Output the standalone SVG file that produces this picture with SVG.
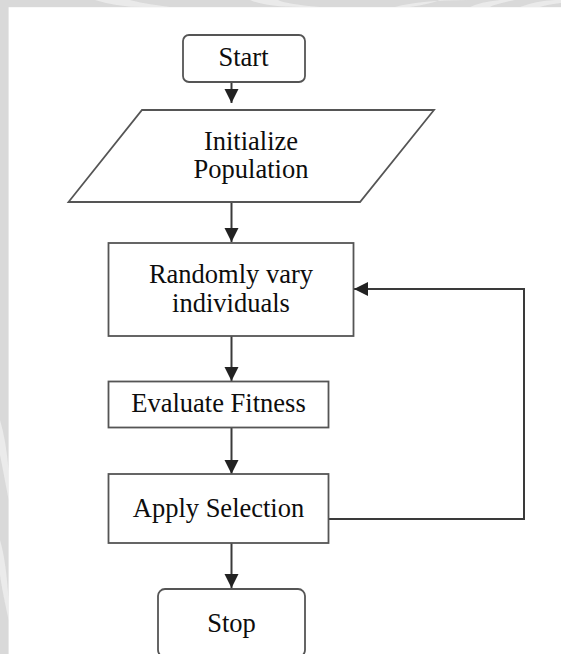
<svg xmlns="http://www.w3.org/2000/svg" width="561" height="654" viewBox="0 0 561 654">
  <style>
    .box { fill: #ffffff; stroke: #555555; stroke-width: 1.8; }
    .edge { fill: none; stroke: #3a3a3a; stroke-width: 2; }
    .lbl { font-family: "Liberation Serif", "Times New Roman", serif; font-size: 26.5px; fill: #0d0d0d; text-anchor: middle; }
  </style>
  <defs>
    <marker id="arrow" markerUnits="userSpaceOnUse" markerWidth="14" markerHeight="15" refX="14" refY="7" orient="auto">
      <path d="M0,0 L14,7 L0,14 Z" fill="#222222"/>
    </marker>
  </defs>

  <!-- page background with grey margin strips -->
  <rect x="0" y="0" width="561" height="654" fill="#d9d9d9"/>
  <g fill="#ececec" opacity="0.9">
    <path d="M95,0 Q120,8 150,7 L170,7 Q140,3 130,0 Z"/>
    <path d="M250,0 Q265,7 300,7 L320,7 Q285,4 278,0 Z"/>
    <path d="M395,7 Q420,0 470,0 L440,0 Q430,4 410,7 Z"/>
    <path d="M470,7 Q480,2 500,0 L515,0 Q495,4 490,7 Z"/>
    <path d="M520,7 Q535,1 555,0 L561,0 L561,3 Q545,5 540,7 Z"/>
    <path d="M0,420 Q6,440 8.6,470 L8.6,500 Q3,470 0,455 Z"/>
    <path d="M0,540 Q6,560 8.6,600 L8.6,620 Q2,590 0,575 Z"/>
  </g>
  <rect x="8.6" y="7.2" width="552.4" height="646.8" fill="#ffffff"/>

  <!-- connectors -->
  <g id="connectors">
    <line class="edge" x1="231.5" y1="82" x2="231.5" y2="103" marker-end="url(#arrow)"/>
    <line class="edge" x1="231.5" y1="202" x2="231.5" y2="242" marker-end="url(#arrow)"/>
    <line class="edge" x1="231.5" y1="336" x2="231.5" y2="381" marker-end="url(#arrow)"/>
    <line class="edge" x1="231.5" y1="427" x2="231.5" y2="474" marker-end="url(#arrow)"/>
    <line class="edge" x1="231.5" y1="543" x2="231.5" y2="588" marker-end="url(#arrow)"/>
    <polyline class="edge" points="328.5,519 524,519 524,289 354,289" marker-end="url(#arrow)"/>
  </g>

  <g id="start">
    <rect class="box" x="183" y="35" width="122" height="47" rx="6"/>
    <text class="lbl" x="243.5" y="66">Start</text>
  </g>

  <g id="initialize">
    <polygon class="box" points="142,110 434,110 360,202 68.5,202"/>
    <text class="lbl" x="251" y="150">Initialize</text>
    <text class="lbl" x="251" y="178">Population</text>
  </g>

  <g id="vary">
    <rect class="box" x="108.5" y="243" width="245" height="93"/>
    <text class="lbl" x="231" y="283">Randomly vary</text>
    <text class="lbl" x="231" y="312">individuals</text>
  </g>

  <g id="evaluate">
    <rect class="box" x="108.5" y="381.5" width="220" height="46"/>
    <text class="lbl" x="218.5" y="412">Evaluate Fitness</text>
  </g>

  <g id="selection">
    <rect class="box" x="108.5" y="474" width="220" height="69"/>
    <text class="lbl" x="218.5" y="517">Apply Selection</text>
  </g>

  <g id="stop">
    <rect class="box" x="158" y="589" width="147" height="68" rx="7"/>
    <text class="lbl" x="231.5" y="632">Stop</text>
  </g>
</svg>
